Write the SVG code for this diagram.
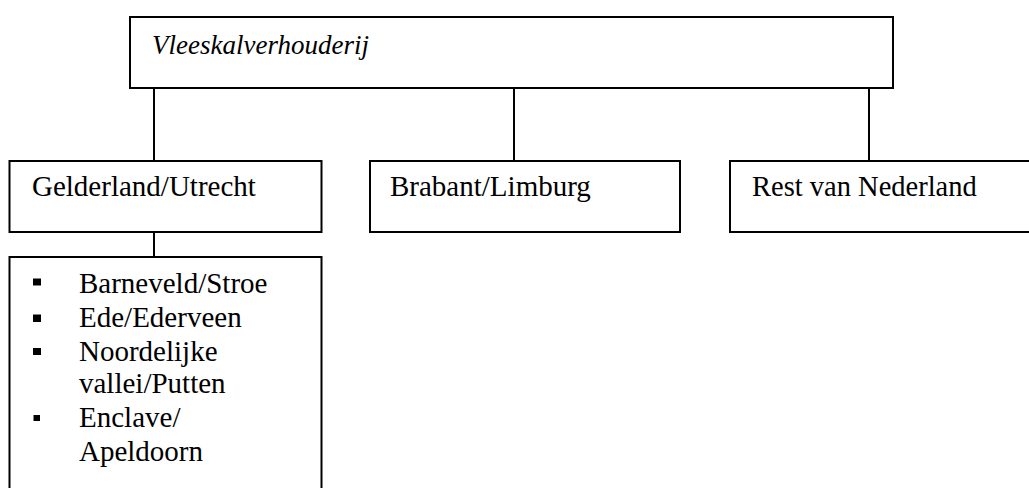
<svg xmlns="http://www.w3.org/2000/svg" width="1029" height="488" viewBox="0 0 1029 488">
<style>
.box{fill:#fff;stroke:#000;stroke-width:2}
.conn{stroke:#000;stroke-width:2;fill:none}
.t{font-size:29px;fill:#000}
.tr{font-size:28.5px;fill:#000}
.ti{font-size:27px;font-style:italic;fill:#000}
.b{fill:#000}
</style>
<rect width="1029" height="488" fill="#fff"/>
<g id="connectors">
<line class="conn" x1="154" y1="88" x2="154" y2="161"/>
<line class="conn" x1="514" y1="88" x2="514" y2="161"/>
<line class="conn" x1="869" y1="88" x2="869" y2="161"/>
<line class="conn" x1="154" y1="232" x2="154" y2="257"/>
</g>
<g id="root">
<rect class="box" x="130" y="17" width="763" height="71"/>
<text class="ti" x="152" y="54" font-family="Tinos">Vleeskalverhouderij</text>
</g>
<g id="gelderland">
<rect class="box" x="9.5" y="161" width="312" height="71"/>
<text class="t" x="32" y="196" font-family="Times New Roman">Gelderland/Utrecht</text>
</g>
<g id="brabant">
<rect class="box" x="370" y="161" width="310" height="71"/>
<text class="t" x="390" y="196" font-family="Tinos">Brabant/Limburg</text>
</g>
<g id="rest">
<rect class="box" x="730" y="161" width="320" height="71"/>
<text class="tr" x="752" y="196" font-family="Tinos">Rest van Nederland</text>
</g>
<g id="regions">
<rect class="box" x="9.5" y="257" width="312" height="250"/>
<rect class="b" x="33" y="278.5" width="8" height="7"/>
<rect class="b" x="33" y="314.5" width="8" height="7.5"/>
<rect class="b" x="33" y="348" width="8" height="7"/>
<rect class="b" x="33.5" y="415" width="6.5" height="6"/>
<text class="t" x="79" y="293" font-family="Liberation Serif">Barneveld/Stroe</text>
<text class="t" x="79" y="327" font-family="Liberation Serif">Ede/Ederveen</text>
<text class="t" x="79" y="360.5" font-family="serif">Noordelijke</text>
<text class="t" x="79" y="393" font-family="Times New Roman">vallei/Putten</text>
<text class="t" x="79" y="426.5" font-family="Tinos">Enclave/</text>
<text class="t" x="79" y="461" font-family="Times New Roman">Apeldoorn</text>
</g>
</svg>
